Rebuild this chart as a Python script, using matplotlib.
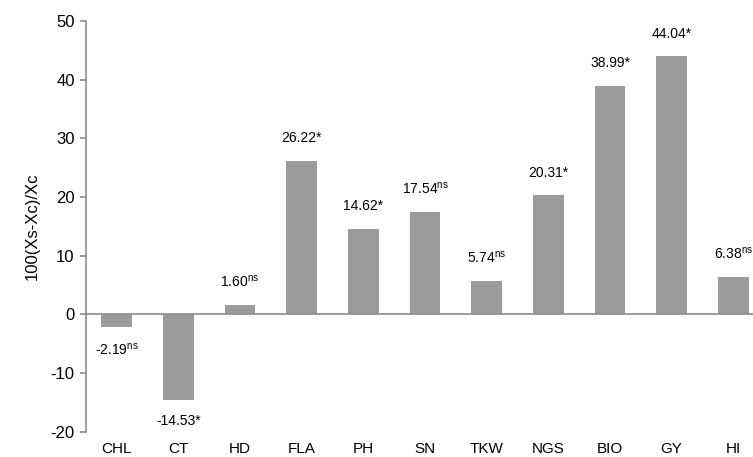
import numpy as np
import matplotlib
matplotlib.use('Agg')
import matplotlib.pyplot as plt

plt.rcParams['font.family'] = ['Liberation Sans', 'DejaVu Sans']
plt.rcParams['mathtext.default'] = 'regular'
plt.rcParams['axes.unicode_minus'] = False

# traits and percent change relative to control
traits = ['CHL', 'CT', 'HD', 'FLA', 'PH', 'SN', 'TKW', 'NGS', 'BIO', 'GY', 'HI']
change = [-2.19, -14.53, 1.60, 26.22, 14.62, 17.54, 5.74, 20.31, 38.99, 44.04, 6.38]
signif = ['ns', '*', 'ns', '*', '*', 'ns', 'ns', '*', '*', '*', 'ns']

bar_color = '#9a9c9c'
axis_color = '#8c8c8c'

fig = plt.figure(figsize=(7.53, 4.57), dpi=100)
ax = fig.add_axes([0.114, 0.055, 0.886, 0.899])

x = np.arange(len(traits))
ax.bar(x, change, width=0.5, color=bar_color, zorder=2)
ax.axhline(0, color=axis_color, lw=1.2, zorder=3)

for xi, v, s in zip(x, change, signif):
    if s == 'ns':
        lab = '%.2f$^{ns}$' % v
    else:
        lab = '%.2f*' % v
    if v >= 0:
        ax.annotate(lab, (xi, v), xytext=(0, 11), textcoords='offset points',
                    ha='center', va='bottom', fontsize=10)
    else:
        ax.annotate(lab, (xi, v), xytext=(0, -10), textcoords='offset points',
                    ha='center', va='top', fontsize=10)

ax.set_xlim(-0.5, 10.32)
ax.set_ylim(-20, 50)
ax.set_yticks(np.arange(-20, 51, 10))
ax.set_xticks(x)
ax.set_xticklabels(traits, fontsize=11)
ax.tick_params(axis='x', length=0, pad=7)
ax.tick_params(axis='y', labelsize=12, color=axis_color, length=4, width=1.2, pad=4)
ax.set_ylabel('100(Xs-Xc)/Xc', fontsize=12, labelpad=8)

for side in ['top', 'right', 'bottom']:
    ax.spines[side].set_visible(False)
ax.spines['left'].set_color(axis_color)
ax.spines['left'].set_linewidth(1.2)

plt.savefig('out.png', dpi=100)
